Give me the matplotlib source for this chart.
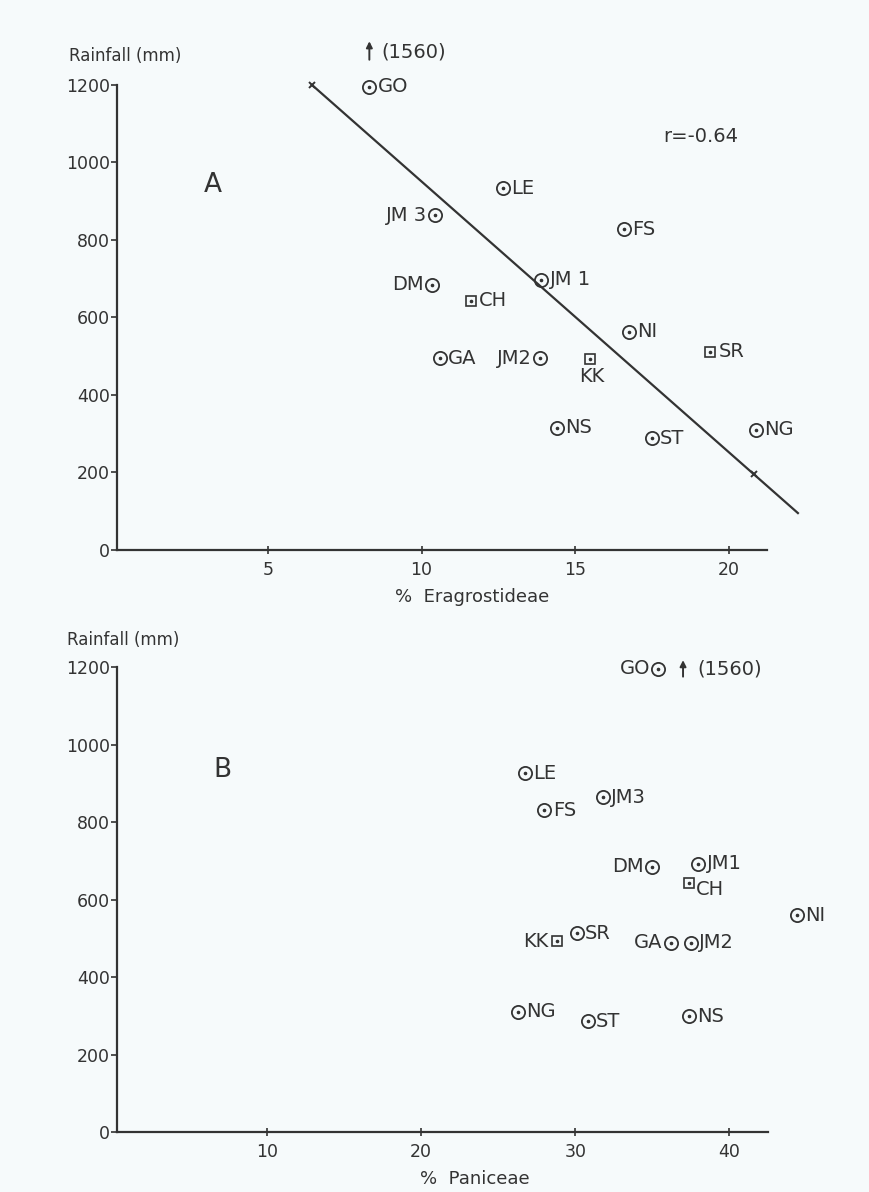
import matplotlib
matplotlib.use('Agg')
import matplotlib.pyplot as plt

# Sites and their rainfall (mm)
sites_a = ['GO', 'LE', 'JM 3', 'FS', 'DM', 'CH', 'JM 1', 'NI', 'SR', 'GA', 'JM2', 'KK', 'NS', 'ST', 'NG']
erag = [8.3, 12.65, 10.45, 16.6, 10.35, 11.6, 13.9, 16.75, 19.4, 10.6, 13.85, 15.5, 14.4, 17.5, 20.9]
rain_a = [1560, 934, 864, 828, 684, 643, 697, 563, 511, 495, 495, 493, 315, 289, 310]
square_a = ['CH', 'SR', 'KK']

sites_b = ['GO', 'LE', 'FS', 'JM3', 'DM', 'JM1', 'CH', 'NI', 'KK', 'SR', 'GA', 'JM2', 'NG', 'ST', 'NS']
pani = [35.4, 26.75, 28.0, 31.8, 35.0, 38.0, 37.4, 44.4, 28.8, 30.1, 36.2, 37.5, 26.3, 30.8, 37.4]
rain_b = [1560, 926, 831, 864, 684, 692, 643, 560, 493, 513, 488, 488, 310, 286, 299]
square_b = ['CH', 'KK']

# regression line of panel A
fit_intercept = 1649
fit_slope = -69.8
fit_x = [6.43, 22.26]
fit_marks = [6.43, 20.83]
r_value = -0.64

yticks = [0, 200, 400, 600, 800, 1000, 1200]
top_plot = 1195  # off-scale values are drawn at the top of the axis

ink = '#333333'
bg = '#f6fafb'
plt.rcParams['font.family'] = ['DejaVu Sans']

fig = plt.figure(figsize=(8.7, 11.92), dpi=100, facecolor=bg)
ax1 = fig.add_axes([0.1345, 0.5386, 0.747, 0.3901])
ax2 = fig.add_axes([0.1345, 0.0503, 0.748, 0.3901])


def style_axis(ax, xlim, xticks):
    ax.set_facecolor(bg)
    ax.set_xlim(*xlim)
    ax.set_ylim(0, 1200)
    ax.set_xticks(xticks)
    ax.set_yticks(yticks)
    for s in ['top', 'right']:
        ax.spines[s].set_visible(False)
    for s in ['left', 'bottom']:
        ax.spines[s].set_color(ink)
        ax.spines[s].set_linewidth(1.6)
    ax.tick_params(axis='y', direction='out', length=4, width=1.2, colors=ink,
                   labelsize=12.5, pad=1)
    ax.tick_params(axis='x', direction='inout', length=6, width=1.2, colors=ink,
                   labelsize=12.5, pad=5)


def draw_points(ax, xs, ys, names, squares, sides):
    for x, y, name in zip(xs, ys, names):
        yp = min(y, top_plot)
        if name in squares:
            ax.plot(x, yp, marker='s', ms=6.5, mfc='none', mec=ink, mew=1.2, clip_on=False)
        else:
            ax.plot(x, yp, marker='o', ms=9.5, mfc='none', mec=ink, mew=1.3, clip_on=False)
        ax.plot(x, yp, marker='o', ms=1.6, color=ink, clip_on=False)
        side = sides.get(name, 'r')
        if side == 'r':
            off, ha, va = (6, 0), 'left', 'center'
        elif side == 'l':
            off, ha, va = (-6, 0), 'right', 'center'
        elif side == 'rb':
            off, ha, va = (5, -5), 'left', 'center'
        else:
            off, ha, va = (1, -6), 'center', 'top'
        ax.annotate(name, (x, yp), xytext=off, textcoords='offset points',
                    ha=ha, va=va, fontsize=14, color=ink, annotation_clip=False)


# ---- Panel A ----
style_axis(ax1, (0.08, 21.25), [5, 10, 15, 20])
sides_a = {'JM 3': 'l', 'DM': 'l', 'JM2': 'l', 'KK': 'b'}
draw_points(ax1, erag, rain_a, sites_a, square_a, sides_a)

line_y = [fit_intercept + fit_slope * x for x in fit_x]
ax1.plot(fit_x, line_y, color=ink, lw=1.6, clip_on=False)
ax1.plot(fit_marks, [fit_intercept + fit_slope * x for x in fit_marks],
         'x', ms=5, mew=1.4, color=ink, clip_on=False)

go_x = erag[sites_a.index('GO')]
ax1.annotate('', xy=(go_x, 1320), xytext=(go_x, 1258),
             arrowprops=dict(arrowstyle='-|>', color=ink, lw=1.4, mutation_scale=9),
             annotation_clip=False)
ax1.text(go_x + 0.4, 1285, '(1560)', fontsize=14, color=ink, va='center', ha='left', clip_on=False)

ax1.text(3.2, 942, 'A', fontsize=19, color=ink, ha='center', va='center')
ax1.text(19.1, 1066, f'r={r_value}', fontsize=14, color=ink, ha='center', va='center')
ax1.text(0.34, 1275, 'Rainfall (mm)', fontsize=12, color=ink, ha='center', va='center', clip_on=False)
ax1.set_xlabel('%  Eragrostideae', fontsize=13, color=ink)
ax1.xaxis.set_label_coords(0.546, -0.082)

# ---- Panel B ----
style_axis(ax2, (0.26, 42.5), [10, 20, 30, 40])
sides_b = {'GO': 'l', 'DM': 'l', 'KK': 'l', 'GA': 'l', 'CH': 'rb'}
draw_points(ax2, pani, rain_b, sites_b, square_b, sides_b)

go_xb = pani[sites_b.index('GO')]
ax2.annotate('', xy=(go_xb + 1.6, 1225), xytext=(go_xb + 1.6, 1168),
             arrowprops=dict(arrowstyle='-|>', color=ink, lw=1.4, mutation_scale=9),
             annotation_clip=False)
ax2.text(go_xb + 2.5, 1196, '(1560)', fontsize=14, color=ink, va='center', ha='left', clip_on=False)

ax2.text(7.1, 934, 'B', fontsize=19, color=ink, ha='center', va='center')
ax2.text(0.65, 1270, 'Rainfall (mm)', fontsize=12, color=ink, ha='center', va='center', clip_on=False)
ax2.set_xlabel('%  Paniceae', fontsize=13, color=ink)
ax2.xaxis.set_label_coords(0.55, -0.082)

fig.savefig('out.png', dpi=100, facecolor=bg)
